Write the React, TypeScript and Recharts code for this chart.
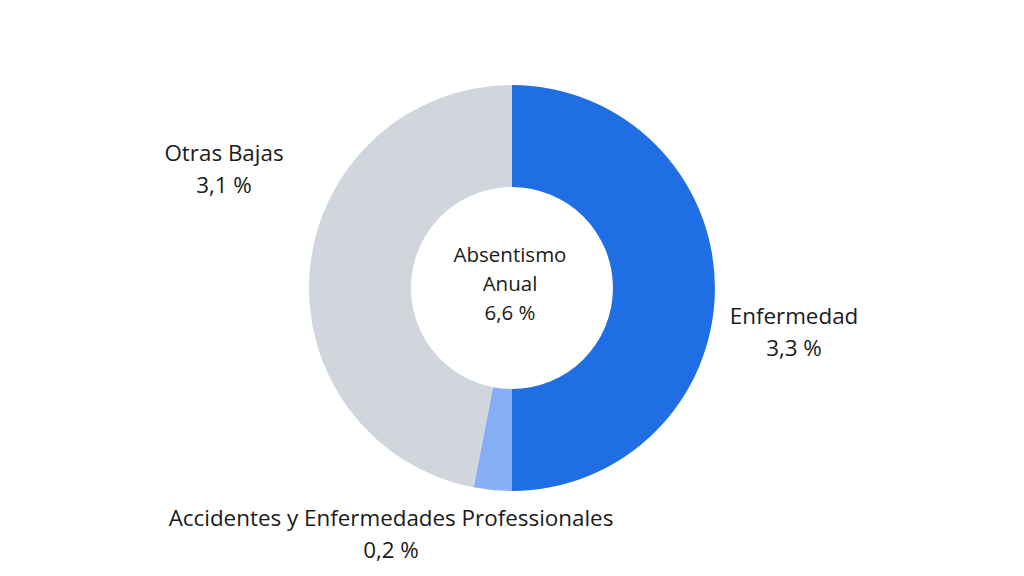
import React from 'react';
import { PieChart, Pie, Cell } from 'recharts';

// Absentismo anual por motivo (%)
const categories = ['Enfermedad', 'Accidentes y Enfermedades Professionales', 'Otras Bajas'];
const values = [3.3, 0.2, 3.1];
const colors = ['#1f6ee4', '#86aef5', '#d1d5dc'];

const centerLines = ['Absentismo', 'Anual'];
const totalValue = 6.6;

const fmt = (v: number) => v.toFixed(1).replace('.', ',') + ' %';

// label placement relative to the pie centre (baseline of the first line)
const labelPlacement: Record<string, { dx: number; dy: number }> = {
    'Enfermedad': { dx: 282, dy: 36 },
    'Accidentes y Enfermedades Professionales': { dx: -121, dy: 238 },
    'Otras Bajas': { dx: -288, dy: -127 },
};

const data = categories.map((name, i) => ({ name, value: values[i] }));

const FONT = '"Open Sans", sans-serif';
const TEXT = '#1b1b1b';

const renderLabel = (props: any) => {
    const { cx, cy, name, value } = props;
    const p = labelPlacement[name];
    if (!p) return null;
    return (
        <text x={cx + p.dx} y={cy + p.dy} textAnchor="middle" fontFamily={FONT} fontSize={22.4} fill={TEXT}>
            <tspan x={cx + p.dx}>{name}</tspan>
            <tspan x={cx + p.dx} dy={32}>{fmt(value)}</tspan>
        </text>
    );
};

export default function App() {
    return (
        <div style={{ position: 'fixed', left: 0, top: 0, width: 1024, height: 576, background: '#fff' }}>
            <PieChart width={1024} height={576} margin={{ top: 0, right: 0, bottom: 0, left: 0 }}>
                <Pie
                    data={data}
                    dataKey="value"
                    nameKey="name"
                    cx={512}
                    cy={288}
                    innerRadius={101}
                    outerRadius={203}
                    startAngle={90}
                    endAngle={-270}
                    stroke="none"
                    label={renderLabel}
                    labelLine={false}
                    isAnimationActive={false}
                >
                    {data.map((d, i) => (
                        <Cell key={d.name} fill={colors[i]} />
                    ))}
                </Pie>
                <text x={510} y={262} textAnchor="middle" fontFamily={FONT} fontSize={20.5} fill={TEXT}>
                    <tspan x={510}>{centerLines[0]}</tspan>
                    <tspan x={510} dy={28.5}>{centerLines[1]}</tspan>
                    <tspan x={510} dy={29}>{fmt(totalValue)}</tspan>
                </text>
            </PieChart>
        </div>
    );
}
